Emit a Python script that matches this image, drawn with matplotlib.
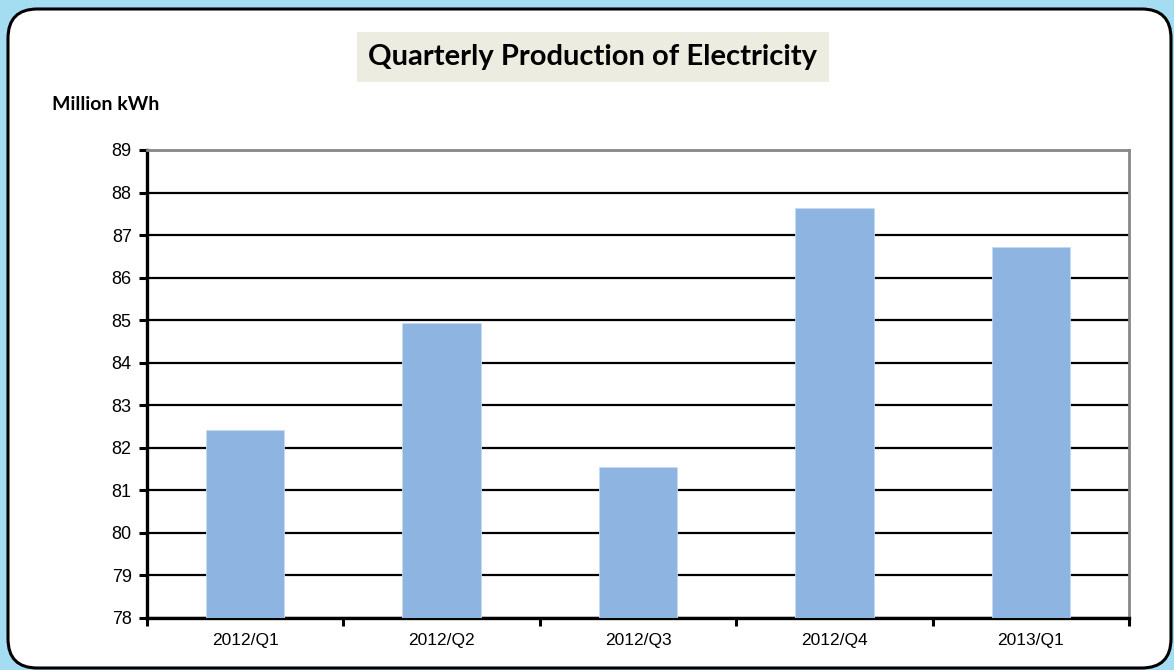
import matplotlib.pyplot as plt
import numpy as np
from matplotlib.patches import FancyBboxPatch

quarters = ['2012/Q1', '2012/Q2', '2012/Q3', '2012/Q4', '2013/Q1']
production = [82.42, 84.93, 81.54, 87.64, 86.72]
y_ticks = list(range(78, 90))

fig = plt.figure(figsize=(11.74, 6.7), dpi=100)
fig.patch.set_facecolor('#A4DCF2')

# white rounded panel behind the chart
panel = FancyBboxPatch((8 / 1174, 2 / 670), 1163 / 1174, 659 / 670,
                       boxstyle='round,pad=0,rounding_size=0.025',
                       transform=fig.transFigure, facecolor='white',
                       edgecolor='black', linewidth=2.2, mutation_aspect=1174 / 670,
                       zorder=-5)
fig.patches.append(panel)

ax = fig.add_axes([147 / 1174, 52 / 670, 982 / 1174, 468 / 670])
ax.set_facecolor('white')
x = np.arange(len(quarters))
ax.bar(x, [v - 78 for v in production], bottom=78, width=0.4,
       color='#8EB4E2', edgecolor='#C5D9F1', linewidth=0.6, zorder=3)

ax.set_xlim(-0.5, len(quarters) - 0.5)
ax.set_ylim(78, 89)
ax.set_yticks(y_ticks)
ax.set_yticklabels([str(t) for t in y_ticks], fontsize=13, family='Liberation Sans')
ax.yaxis.grid(True, color='black', linewidth=1.6, zorder=1)
ax.set_axisbelow(True)

ax.set_xticks(x)
ax.set_xticklabels(quarters, fontsize=12.5, family='Liberation Sans')
ax.tick_params(axis='x', length=0, pad=11)
ax.set_xticks(np.arange(-0.5, len(quarters)), minor=True)
ax.tick_params(axis='x', which='minor', length=6, width=2.2, color='black', direction='out')
ax.tick_params(axis='y', length=6, width=2.2, color='black', direction='out', pad=5)

for side in ['top', 'right']:
    ax.spines[side].set_color('#888888')
    ax.spines[side].set_linewidth(2)
for side in ['left', 'bottom']:
    ax.spines[side].set_color('black')
    ax.spines[side].set_linewidth(2.4)

fig.text(593 / 1174, 1 - 57 / 670, 'Quarterly Production of Electricity',
         ha='center', va='center', fontsize=21, fontweight='bold', family='Lato',
         bbox=dict(boxstyle='square,pad=0.4', facecolor='#ECECE0', edgecolor='none'))
fig.text(52 / 1174, 1 - 104 / 670, 'Million kWh', ha='left', va='center',
         fontsize=14, fontweight='bold', family='Lato')

plt.savefig('out.png', dpi=100, facecolor=fig.get_facecolor())
